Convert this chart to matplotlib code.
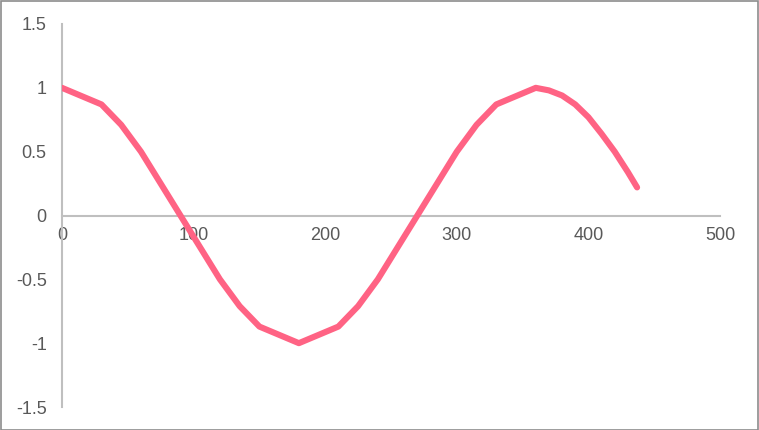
import matplotlib
matplotlib.use("Agg")
import matplotlib.pyplot as plt
from matplotlib.patches import Rectangle

# degrees and value
angles = [0, 30, 45, 60, 90, 120, 135, 150, 180, 210, 225, 240, 270,
          300, 315, 330, 360, 370, 380, 390, 400, 410, 420, 430, 437]
values = [1.0, 0.87, 0.71, 0.5, 0.0, -0.5, -0.71, -0.87, -1.0, -0.87, -0.71,
          -0.5, 0.0, 0.5, 0.71, 0.87, 1.0, 0.98, 0.94, 0.87, 0.77, 0.64,
          0.5, 0.34, 0.22]
x_ticks = [0, 100, 200, 300, 400, 500]
y_ticks = [-1.5, -1, -0.5, 0, 0.5, 1, 1.5]
y_labels = ["-1.5", "-1", "-0.5", "0", "0.5", "1", "1.5"]

plt.rcParams['font.family'] = ['Liberation Sans', 'DejaVu Sans']

fig = plt.figure(figsize=(7.59, 4.30), dpi=100)
ax = fig.add_axes([62 / 759, 1 - 407 / 430, (720 - 62) / 759, (407 - 24) / 430])

ax.plot(angles, values, color='#FF6384', linewidth=4.4,
        solid_capstyle='round', solid_joinstyle='round', zorder=3)

ax.set_xlim(0, 500)
ax.set_ylim(-1.5, 1.5)
ax.set_xticks(x_ticks)
ax.set_yticks(y_ticks)
ax.set_yticklabels(y_labels)

for s in ['top', 'right']:
    ax.spines[s].set_visible(False)
ax.spines['left'].set_color('#BFBFBF')
ax.spines['left'].set_linewidth(1.5)
ax.spines['bottom'].set_position(('data', 0))
ax.spines['bottom'].set_color('#BFBFBF')
ax.spines['bottom'].set_linewidth(1.5)

ax.tick_params(axis='both', length=0, labelsize=13, labelcolor='#595959')
ax.tick_params(axis='x', pad=8)
ax.tick_params(axis='y', pad=11)

# outer chart border
fig.patches.append(Rectangle((0.5 / 759, 0.5 / 430), 1 - 1.5 / 759, 1 - 1.5 / 430,
                             transform=fig.transFigure, fill=False,
                             edgecolor='#8C8C8C', linewidth=1.2))

fig.savefig('out.png', dpi=100)
